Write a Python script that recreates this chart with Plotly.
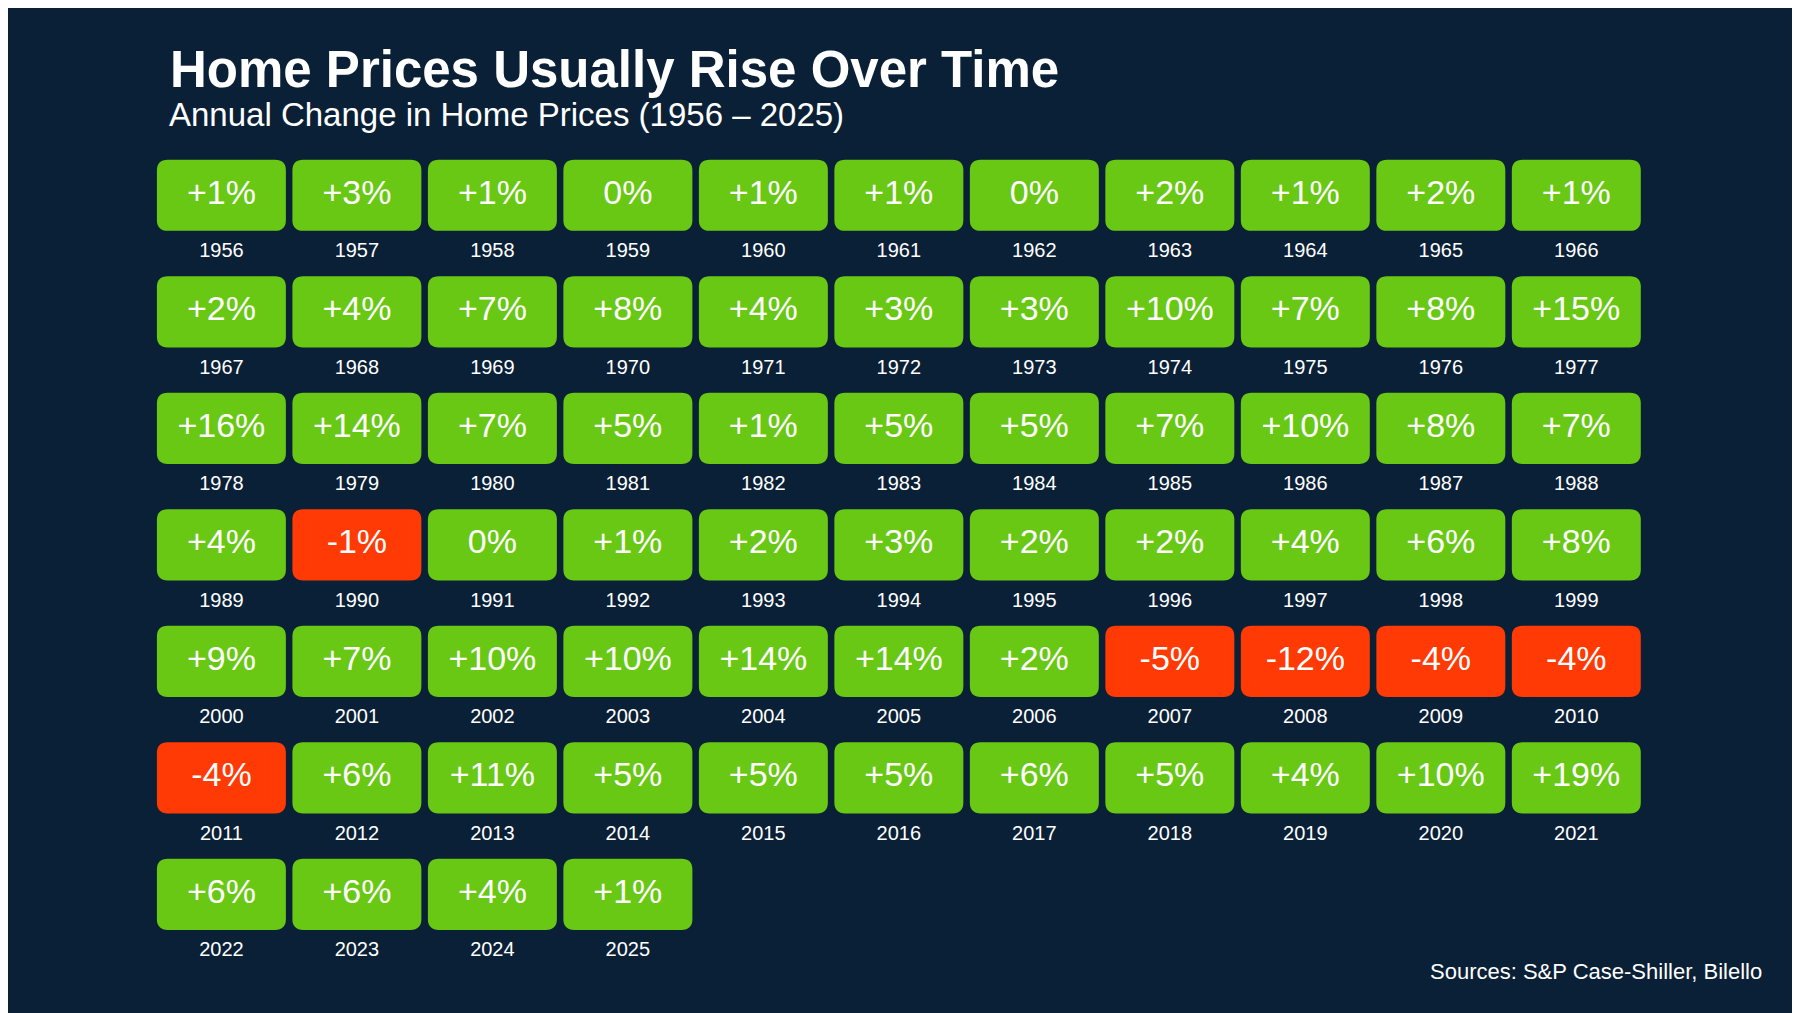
import plotly.graph_objects as go

years = list(range(1956, 2026))
changes = [1, 3, 1, 0, 1, 1, 0, 2, 1, 2, 1,
           2, 4, 7, 8, 4, 3, 3, 10, 7, 8, 15,
           16, 14, 7, 5, 1, 5, 5, 7, 10, 8, 7,
           4, -1, 0, 1, 2, 3, 2, 2, 4, 6, 8,
           9, 7, 10, 10, 14, 14, 2, -5, -12, -4, -4,
           -4, 6, 11, 5, 5, 5, 6, 5, 4, 10, 19,
           6, 6, 4, 1]

ncols = 11
green = "#68C814"
red = "#FF3A05"
bg = "#0a2036"

cols = [i % ncols for i in range(len(years))]
rows = [i // ncols for i in range(len(years))]
labels = [("+%d%%" % v) if v > 0 else ("%d%%" % v) for v in changes]

def rounded(x0, y0, x1, y1, rx, ry):
    return (f"M{x0+rx},{y0} L{x1-rx},{y0} Q{x1},{y0} {x1},{y0+ry} "
            f"L{x1},{y1-ry} Q{x1},{y1} {x1-rx},{y1} L{x0+rx},{y1} "
            f"Q{x0},{y1} {x0},{y1-ry} L{x0},{y0+ry} Q{x0},{y0} {x0+rx},{y0} Z")

hw, hh = 0.476, 0.305
shapes = []
for c, r, v in zip(cols, rows, changes):
    shapes.append(dict(type="path", xref="x", yref="y",
                       path=rounded(c - hw, r - hh, c + hw, r + hh, 0.08, 0.093),
                       fillcolor=red if v < 0 else green, line=dict(width=0), layer="below"))

fig = go.Figure()
fig.add_trace(go.Scatter(x=cols, y=rows, mode="text", text=labels,
                         textfont=dict(family="Liberation Sans, Arial", size=34, color="white"),
                         hoverinfo="skip"))
fig.add_trace(go.Scatter(x=cols, y=[r + 0.49 for r in rows], mode="text", text=[str(y) for y in years],
                         textfont=dict(family="Liberation Sans, Arial", size=20, color="white"),
                         hoverinfo="skip"))

fig.update_layout(
    width=1800, height=1013, showlegend=False,
    paper_bgcolor=bg, plot_bgcolor=bg,
    margin=dict(l=0, r=0, t=0, b=0),
    shapes=shapes,
    xaxis=dict(range=[-1.575, 11.71], visible=False, fixedrange=True),
    yaxis=dict(range=[7.087, -1.608], visible=False, fixedrange=True),
    annotations=[
        dict(text="<b>Home Prices Usually Rise Over Time</b>", xref="paper", yref="paper",
             x=160 / 1800, y=1 - 62 / 1013, xanchor="left", yanchor="middle", showarrow=False,
             font=dict(family="Liberation Sans, Arial", size=51, color="white")),
        dict(text="Annual Change in Home Prices (1956 – 2025)", xref="paper", yref="paper",
             x=159 / 1800, y=1 - 107 / 1013, xanchor="left", yanchor="middle", showarrow=False,
             font=dict(family="Liberation Sans, Arial", size=33, color="white")),
        dict(text="Sources: S&P Case-Shiller, Bilello", xref="paper", yref="paper",
             x=1756 / 1800, y=1 - 963 / 1013, xanchor="right", yanchor="middle", showarrow=False,
             font=dict(family="Liberation Sans, Arial", size=22, color="white")),
    ],
)

fig.write_html("out.html")
